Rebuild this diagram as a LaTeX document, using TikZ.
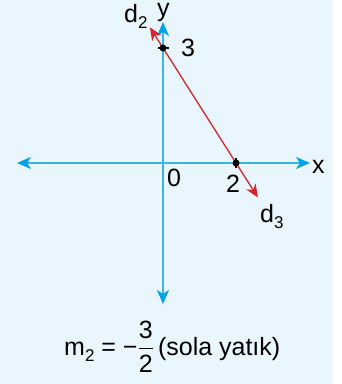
\documentclass[tikz,border=0pt]{standalone}
\usepackage{amsmath}
\usepackage{fontspec}
\setmainfont{Liberation Sans}
\usetikzlibrary{arrows.meta,calc}
\definecolor{bg}{RGB}{234,246,253}
\definecolor{axisc}{RGB}{60,180,232}
\definecolor{axtip}{RGB}{0,162,230}
\definecolor{redc}{RGB}{214,36,43}
\newcommand{\mysub}[1]{\raisebox{-6pt}{\fontsize{17}{19}\selectfont #1}}
\tikzset{
  axisline/.style={axisc, line width=1.6pt, {Stealth[length=14pt,width=12pt,inset=4pt,color=axtip]}-{Stealth[length=14pt,width=12pt,inset=4pt,color=axtip]}},
  redline/.style={redc, line width=1.3pt, {Stealth[length=13pt,width=11pt,inset=4pt]}-{Stealth[length=13pt,width=11pt,inset=4pt]}},
  lbl/.style={inner sep=0pt, anchor=base west, font=\fontsize{25}{29}\selectfont},
  dotc/.style={circle, fill=black, inner sep=0pt, minimum size=7pt},
  tick/.style={black, line width=1.2pt}
}
\begin{document}
\begin{tikzpicture}[x=1pt,y=-1pt]
\useasboundingbox (0,0) rectangle (342,384);
\fill[white] (0,0) rectangle (342,384);
\fill[bg] (0,0) rectangle (333,384);
% axes
\coordinate (xl) at (17,163);
\coordinate (xr) at (310,163);
\coordinate (yt) at (163,22);
\coordinate (yb) at (163,304);
\draw[axisline] (xl) -- (xr);
\draw[axisline] (yb) -- (yt);
% points
\coordinate (A) at (163,48);
\coordinate (B) at (236,163);
\draw[tick] ([xshift=-5pt]A) -- ([xshift=6pt]A);
\draw[tick] ([yshift=-5pt]B) -- ([yshift=5pt]B);
% red line
\coordinate (rt) at ($(A)!-0.18!(B)$);
\coordinate (rb) at ($(A)!1.3!(B)$);
\draw[redline] (rt) -- (rb);
\node[dotc] (pA) at (A) {};
\node[dotc] (pB) at (B) {};
% labels
\node[lbl, text height=13pt, text depth=6pt] (ly) at (157,16) {y};
\node[lbl] (ld2) at (124,22) {d\mysub{2}};
\node[lbl] (l3) at (181,56) {3};
\node[lbl] (l0) at (167,186) {0};
\node[lbl] (l2) at (226,192) {2};
\node[lbl] (lx) at (312,173) {x};
\node[lbl] (ld3) at (260,222) {d\mysub{3}};
\node[lbl] (form) at (64,355) {m\mysub{2} = −$\dfrac{\text{3}}{\text{2}}$\,(sola yatık)};
\end{tikzpicture}
\end{document}
